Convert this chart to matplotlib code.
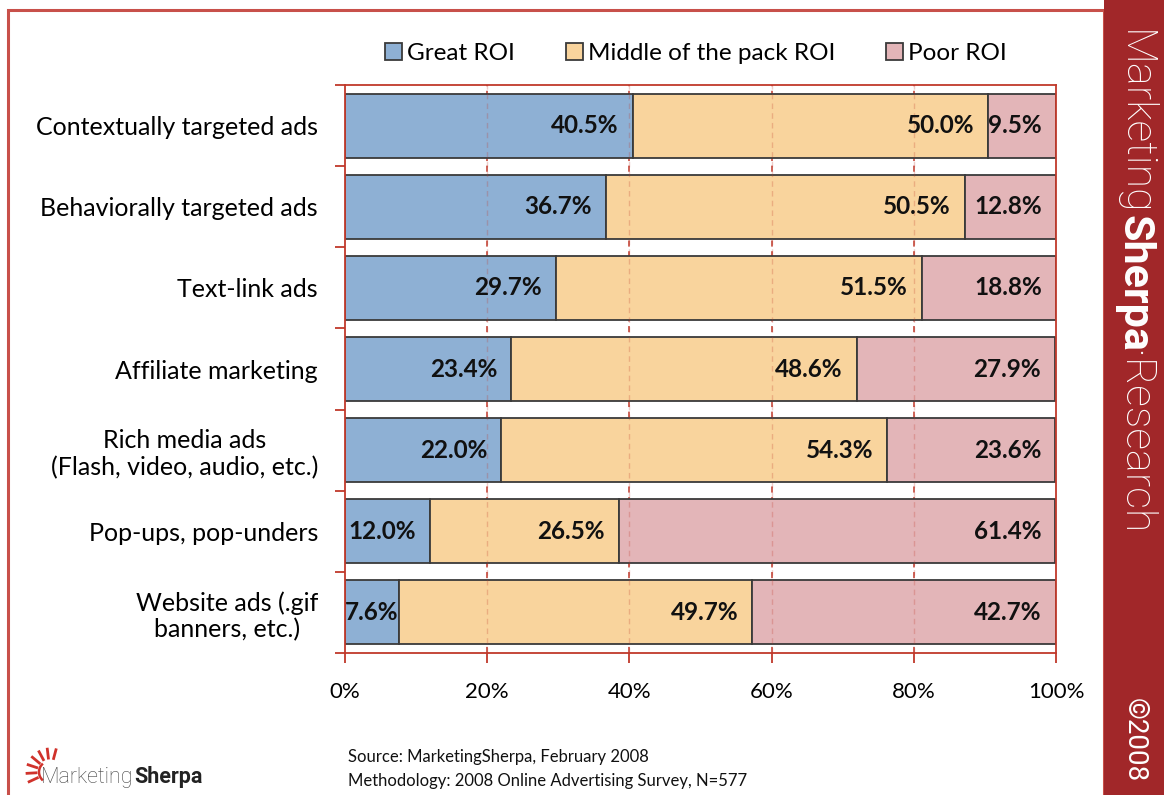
import numpy as np
import matplotlib.pyplot as plt
from matplotlib.patches import Rectangle, Arc
from matplotlib.lines import Line2D

# --------------------
# Data
# --------------------
categories = [
    "Contextually targeted ads",
    "Behaviorally targeted ads",
    "Text-link ads",
    "Affiliate marketing",
    "Rich media ads\n(Flash, video, audio, etc.)",
    "Pop-ups, pop-unders",
    "Website ads (.gif\nbanners, etc.)",
]
great_roi = [40.5, 36.7, 29.7, 23.4, 22.0, 12.0, 7.6]
middle_roi = [50.0, 50.5, 51.5, 48.6, 54.3, 26.5, 49.7]
poor_roi = [9.5, 12.8, 18.8, 27.9, 23.6, 61.4, 42.7]
series_names = ["Great ROI", "Middle of the pack ROI", "Poor ROI"]
x_ticks = [0, 20, 40, 60, 80, 100]

colors = ["#8EB0D4", "#F9D49D", "#E3B5B8"]
red = "#C0392B"
band_red = "#A12729"

plt.rcParams['font.family'] = ['Lato', 'DejaVu Sans']

W, H = 1164, 795
fig = plt.figure(figsize=(W / 100, H / 100), dpi=100)

# outer frame and right band
fig.patches.append(Rectangle((8 / W, -0.01), (1104 - 8) / W, (H - 10) / H + 0.01,
                             transform=fig.transFigure, fill=False,
                             edgecolor="#C8504A", linewidth=2.2))
fig.patches.append(Rectangle((1104 / W, 0), (W - 1104) / W, 1,
                             transform=fig.transFigure, facecolor=band_red,
                             edgecolor="none"))

ax = fig.add_axes([345 / W, 1 - 653 / H, (1056 - 345) / W, (653 - 85) / H])

y = np.arange(len(categories))
series = [great_roi, middle_roi, poor_roi]
left = np.zeros(len(categories))
for vals, col, name in zip(series, colors, series_names):
    vals = np.array(vals)
    ax.barh(y, vals, left=left, height=0.79, color=col, edgecolor="#3A3A3A",
            linewidth=1.3, label=name, zorder=2)
    for yi, (l, v) in enumerate(zip(left, vals)):
        if v < 9:
            ax.text(l + v / 2, yi, f"{v:.1f}%", ha="center", va="center",
                    fontsize=17.5, fontweight="bold", color="#111111", zorder=4)
        else:
            ax.text(l + v - 2.0, yi, f"{v:.1f}%", ha="right", va="center",
                    fontsize=17.5, fontweight="bold", color="#111111", zorder=4)
    left = left + vals

# grid: strong behind bars, faint over them
for gx in x_ticks[1:-1]:
    ax.axvline(gx, color=red, linestyle=(0, (4, 3)), linewidth=1.1, zorder=1)
    ax.axvline(gx, color=red, linestyle=(0, (4, 3)), linewidth=1.0, alpha=0.25, zorder=3)

ax.set_xlim(0, 100)
ax.set_ylim(len(categories) - 0.5, -0.5)
ax.set_xticks(x_ticks)
ax.set_xticklabels([f"{t}%" for t in x_ticks], fontsize=16)
ax.set_yticks(y)
ax.set_yticklabels(categories, fontsize=18)
ax.set_yticks(np.arange(-0.5, len(categories)), minor=True)
ax.tick_params(axis="y", which="major", length=0, pad=19.5)
ax.tick_params(axis="y", which="minor", length=7, color=red, width=1.3)
ax.tick_params(axis="x", which="major", length=7, color=red, width=1.3, pad=14)
for lbl in ax.get_yticklabels():
    lbl.set_multialignment("center")
for sp in ax.spines.values():
    sp.set_color(red)
    sp.set_linewidth(1.3)

leg = ax.legend(loc="lower center", bbox_to_anchor=(0.494, 1.02), ncol=3,
                frameon=False, fontsize=17.5, handlelength=0.7, handleheight=0.7,
                handletextpad=0.2, columnspacing=2.1, borderaxespad=0)

# source text
fig.text(348 / W, 1 - 757 / H, "Source: MarketingSherpa, February 2008",
         fontsize=12, va="center", ha="left", color="#111111")
fig.text(348 / W, 1 - 781 / H, "Methodology: 2008 Online Advertising Survey, N=577",
         fontsize=12, va="center", ha="left", color="#111111")

# right band text, placed piece by piece down the band
renderer = fig.canvas.get_renderer()
band_parts = [("Marketing", "light"), ("Sherpa", "bold"), ("·Research", "light")]
ypos = 30
for word, weight in band_parts:
    t = fig.text(1134 / W, 1 - ypos / H, word, rotation=-90, fontsize=31,
                 color="white", ha="center", va="top", family="Roboto",
                 fontweight=weight)
    ext = t.get_window_extent(renderer)
    ypos += ext.height - 1
fig.text(1134 / W, 1 - 698 / H, "©2008", rotation=-90, fontsize=20,
         color="white", ha="center", va="top", family="Roboto")

# logo
t1 = fig.text(41 / W, 1 - 777 / H, "Marketing", fontsize=15.5, color="#444444",
              va="center", ha="left", family="Roboto", fontweight="light")
ext = t1.get_window_extent(renderer)
fig.text((ext.x1 + 1) / W, 1 - 777 / H, "Sherpa", fontsize=15.5, color="#222222",
         va="center", ha="left", family="Roboto", fontweight="bold")
cx, cy = 50, 772
for ang in np.linspace(75, 205, 7):
    a = np.deg2rad(ang)
    x0, y0 = cx + 14 * np.cos(a), cy - 14 * np.sin(a)
    x1, y1 = cx + 23 * np.cos(a), cy - 23 * np.sin(a)
    fig.add_artist(Line2D([x0 / W, x1 / W], [1 - y0 / H, 1 - y1 / H],
                          transform=fig.transFigure, color="#D0322B", linewidth=2))
fig.add_artist(Arc((cx / W, 1 - cy / H), 22 / W, 22 / H, theta1=120, theta2=240,
                   transform=fig.transFigure, color="#D0322B", linewidth=1.8))

fig.savefig("out.png", dpi=100)
